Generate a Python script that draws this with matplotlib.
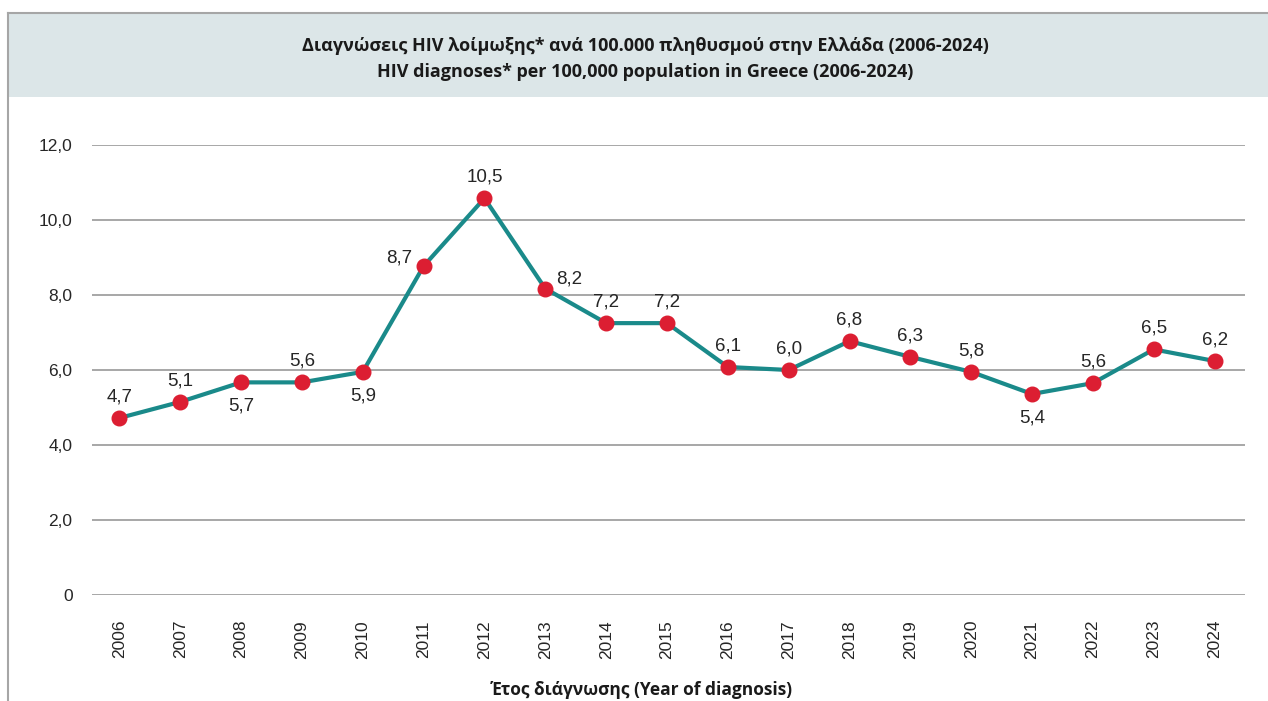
import numpy as np
import matplotlib.pyplot as plt
from matplotlib.patches import Rectangle
from matplotlib.lines import Line2D

years = ['2006', '2007', '2008', '2009', '2010', '2011', '2012', '2013', '2014', '2015',
         '2016', '2017', '2018', '2019', '2020', '2021', '2022', '2023', '2024']
rates = [4.72, 5.15, 5.67, 5.67, 5.95, 8.77, 10.58, 8.17, 7.25, 7.25,
         6.08, 6.0, 6.77, 6.35, 5.95, 5.36, 5.65, 6.55, 6.24]
rate_labels = ['4,7', '5,1', '5,7', '5,6', '5,9', '8,7', '10,5', '8,2', '7,2', '7,2',
               '6,1', '6,0', '6,8', '6,3', '5,8', '5,4', '5,6', '6,5', '6,2']
label_side = ['up', 'up', 'down', 'up', 'down', 'left', 'up', 'right', 'up', 'up',
              'up', 'up', 'up', 'up', 'up', 'down', 'up', 'up', 'up']
y_ticks = [0, 2, 4, 6, 8, 10, 12]
y_tick_labels = ['0', '2,0', '4,0', '6,0', '8,0', '10,0', '12,0']

W, H = 1268, 701
fig = plt.figure(figsize=(W / 100, H / 100), dpi=100)

# title band and frame
fig.patches.append(Rectangle((8 / W, 1 - 97 / H), 1, 84 / H, transform=fig.transFigure,
                             facecolor='#dce6e8', edgecolor='none', zorder=0))
fig.lines.append(Line2D([8 / W, 1], [1 - 13 / H, 1 - 13 / H], transform=fig.transFigure,
                        color='#a6a6a6', lw=1.5))
fig.lines.append(Line2D([8 / W, 8 / W], [0, 1 - 13 / H], transform=fig.transFigure,
                        color='#a6a6a6', lw=1.5))

title_font = ['Open Sans', 'DejaVu Sans']
fig.text(645 / W, 1 - 46 / H, 'Διαγνώσεις HIV λοίμωξης* ανά 100.000 πληθυσμού στην Ελλάδα (2006-2024)',
         ha='center', va='center', fontsize=13, fontweight='bold', color='#1a1a1a', family=title_font)
fig.text(645 / W, 1 - 72 / H, 'HIV diagnoses* per 100,000 population in Greece (2006-2024)',
         ha='center', va='center', fontsize=13, fontweight='bold', color='#1a1a1a', family=title_font)

ax = fig.add_axes([92 / W, 1 - 595 / H, (1245 - 92) / W, (595 - 145) / H])
x = np.arange(len(years))
ax.plot(x, rates, color='#1a8a8a', lw=3, zorder=3)
ax.plot(x, rates, 'o', color='#dc1e32', markersize=10.5, zorder=4)

offsets = {'up': (0, 9, 'center', 'bottom'), 'down': (0, -11, 'center', 'top'),
           'left': (-8, 6, 'right', 'center'), 'right': (8, 7, 'left', 'center')}
for xi, yi, lab, side in zip(x, rates, rate_labels, label_side):
    dx, dy, ha, va = offsets[side]
    ax.annotate(lab, (xi, yi), xytext=(dx, dy), textcoords='offset points',
                ha=ha, va=va, fontsize=13.5, color='#262626', family='Liberation Sans')

ax.set_xlim(-0.45, 18.5)
ax.set_ylim(0, 12)
ax.set_yticks(y_ticks)
ax.set_yticklabels(y_tick_labels)
ax.set_xticks(x)
ax.set_xticklabels(years, rotation=90)
for lab in ax.get_xticklabels() + ax.get_yticklabels():
    lab.set_family('Liberation Sans')
    lab.set_fontsize(12.5)
    lab.set_color('#262626')
ax.tick_params(length=0)
ax.tick_params(axis='x', pad=18)
ax.tick_params(axis='y', pad=14)
ax.grid(True, axis='y', color='#a0a0a0', lw=1.3)
ax.set_axisbelow(True)
for s in ax.spines.values():
    s.set_visible(False)

fig.text(642 / W, 1 - 690 / H, 'Έτος διάγνωσης (Year of diagnosis)', ha='center', va='center',
         fontsize=12.5, fontweight='bold', color='#1a1a1a', family=title_font)

plt.savefig('out.png', dpi=100)
